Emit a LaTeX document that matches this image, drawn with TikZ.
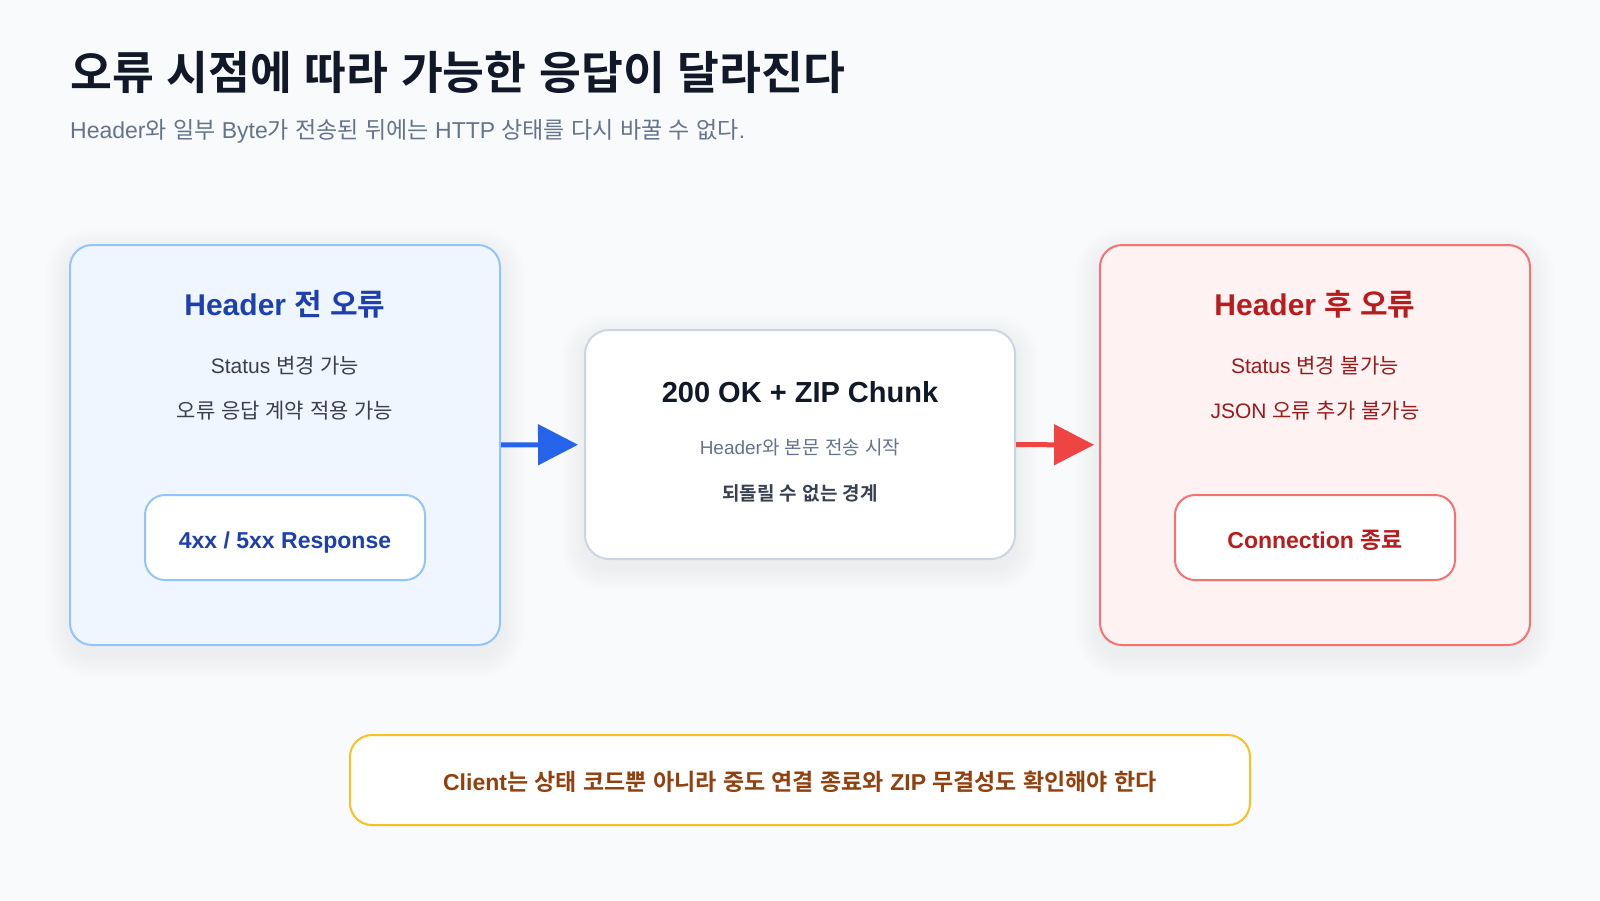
\documentclass[tikz,border=0pt]{standalone}
\usepackage{fontspec}
\setmainfont{Liberation Sans}
\newfontfamily\kofont{Noto Sans CJK KR}[BoldFont={Noto Sans CJK KR Bold}]
% Hangul syllables switch to the CJK family
\XeTeXinterchartokenstate=1
\newXeTeXintercharclass\KoClass
\newcount\kochar
\kochar="AC00
\loop
  \XeTeXcharclass\kochar=\KoClass
  \ifnum\kochar<"D7A3
  \advance\kochar by 1
\repeat
\XeTeXinterchartoks 0 \KoClass = {\kofont}
\XeTeXinterchartoks 4095 \KoClass = {\kofont}
\XeTeXinterchartoks \KoClass 0 = {\rmfamily}
\XeTeXinterchartoks \KoClass 4095 = {\rmfamily}
\usepackage{tikz}
\usetikzlibrary{arrows.meta,backgrounds,positioning}
\definecolor{pagebg}{HTML}{F8FAFC}
\definecolor{ink}{HTML}{111827}
\definecolor{muted}{HTML}{64748B}
\definecolor{bodytext}{HTML}{374151}
\definecolor{bluecard}{HTML}{93C5FD}
\definecolor{bluefill}{HTML}{EFF6FF}
\definecolor{bluetitle}{HTML}{1E40AF}
\definecolor{bluearrow}{HTML}{2563EB}
\definecolor{midborder}{HTML}{CBD5E1}
\definecolor{redcard}{HTML}{F87171}
\definecolor{redfill}{HTML}{FEF2F2}
\definecolor{redtitle}{HTML}{B91C1C}
\definecolor{redtext}{HTML}{991B1B}
\definecolor{redarrow}{HTML}{EF4444}
\definecolor{notecard}{HTML}{FBBF24}
\definecolor{notetext}{HTML}{92400E}
\tikzset{
	card/.style = {
			draw, line width=2pt,
			rounded corners=22pt,
			minimum width=430pt,
			minimum height=400pt,
		},
	midcard/.style = {
			draw=midborder, fill=white, line width=2pt,
			rounded corners=24pt,
			minimum width=430pt,
			minimum height=229pt,
		},
	pill/.style = {
			draw, fill=white, line width=2pt,
			rounded corners=20pt,
			minimum width=280pt,
			minimum height=85pt,
		},
	notebox/.style = {
			draw=notecard, fill=white, line width=2pt,
			rounded corners=22pt,
			minimum width=900pt,
			minimum height=90pt,
		},
	heading/.style = {inner sep=0pt, text=ink, font=\fontsize{45.5}{54}\selectfont\bfseries},
	subheading/.style = {inner sep=0pt, text=muted, font=\fontsize{23}{28}\selectfont},
	cardtitle/.style = {inner sep=0pt, font=\fontsize{30}{36}\selectfont\bfseries},
	midtitle/.style = {inner sep=0pt, font=\fontsize{29}{35}\selectfont\bfseries},
	cardline/.style = {inner sep=0pt, font=\fontsize{21}{25}\selectfont},
	midline/.style = {inner sep=0pt, font=\fontsize{19}{23}\selectfont},
	pilltext/.style = {inner sep=0pt, font=\fontsize{23}{27}\selectfont\bfseries},
	flow/.style = {line width=5pt, -{Triangle[length=40pt,width=40pt]}},
}
% soft shadow under a card
\newcommand\cardshadow[2]{%
	\foreach \s [evaluate=\s as \r using #2+\s] in {2,4,...,24} {
			\fill[black, opacity=0.005, rounded corners=\r pt]
			([xshift=-\s pt, yshift=\s pt-8pt]#1.north west) rectangle
			([xshift=\s pt, yshift=-\s pt-8pt]#1.south east);
		}}

\begin{document}
\begin{tikzpicture}[x=1pt,y=-1pt]
			\useasboundingbox (0,0) rectangle (1600,900);

			% Title
			\node[heading, anchor=west] (Title) at (70,72) {오류 시점에 따라 가능한 응답이 달라진다};
			\node[subheading, anchor=west] (Subtitle) at (70,131) {Header와 일부 Byte가 전송된 뒤에는 HTTP 상태를 다시 바꿀 수 없다.};

			% Cards
			\node[card, draw=bluecard, fill=bluefill] (Before) at (285,445) {};
			\node[midcard] (Chunk) at (800,444.5) {};
			\node[card, draw=redcard, fill=redfill] (After) at (1315,445) {};

			\node[cardtitle, text=bluetitle] (Before title) at (285,304) {Header 전 오류};
			\node[cardline, text=bodytext] (Before line1) at (285,366) {Status 변경 가능};
			\node[cardline, text=bodytext] (Before line2) at (285,411) {오류 응답 계약 적용 가능};
			\node[pill, draw=bluecard] (Response) at (285,537.5) {};
			\node[pilltext, text=bluetitle] (Response label) at (285,543) {4xx / 5xx Response};

			\node[midtitle, text=ink] (Chunk title) at (800,392) {200 OK + ZIP Chunk};
			\node[midline, text=muted] (Chunk line1) at (800,447) {Header와 본문 전송 시작};
			\node[midline, text=bodytext, font=\fontsize{19}{23}\selectfont\bfseries] (Chunk line2) at (800,493) {되돌릴 수 없는 경계};

			\node[cardtitle, text=redtitle] (After title) at (1315,304) {Header 후 오류};
			\node[cardline, text=redtext] (After line1) at (1315,366) {Status 변경 불가능};
			\node[cardline, text=redtext] (After line2) at (1315,411) {JSON 오류 추가 불가능};
			\node[pill, draw=redcard] (Close) at (1315,537.5) {};
			\node[pilltext, text=redtitle] (Close label) at (1315,540) {Connection 종료};

			\node[notebox] (Note) at (800,780) {};
			\node[pilltext, text=notetext] (Note label) at (800,782) {Client는 상태 코드뿐 아니라 중도 연결 종료와 ZIP 무결성도 확인해야 한다};

			\draw[flow, draw=bluearrow, shorten >=6pt] (Before) -- (Chunk);
			\draw[flow, draw=redarrow, shorten >=5pt] (Chunk) -- (After);

			\begin{scope}[on background layer]
				\fill[pagebg] (0,0) rectangle (1600,900);
				\cardshadow{Before}{22}
				\cardshadow{Chunk}{24}
				\cardshadow{After}{22}
			\end{scope}
		\end{tikzpicture}
\end{document}
